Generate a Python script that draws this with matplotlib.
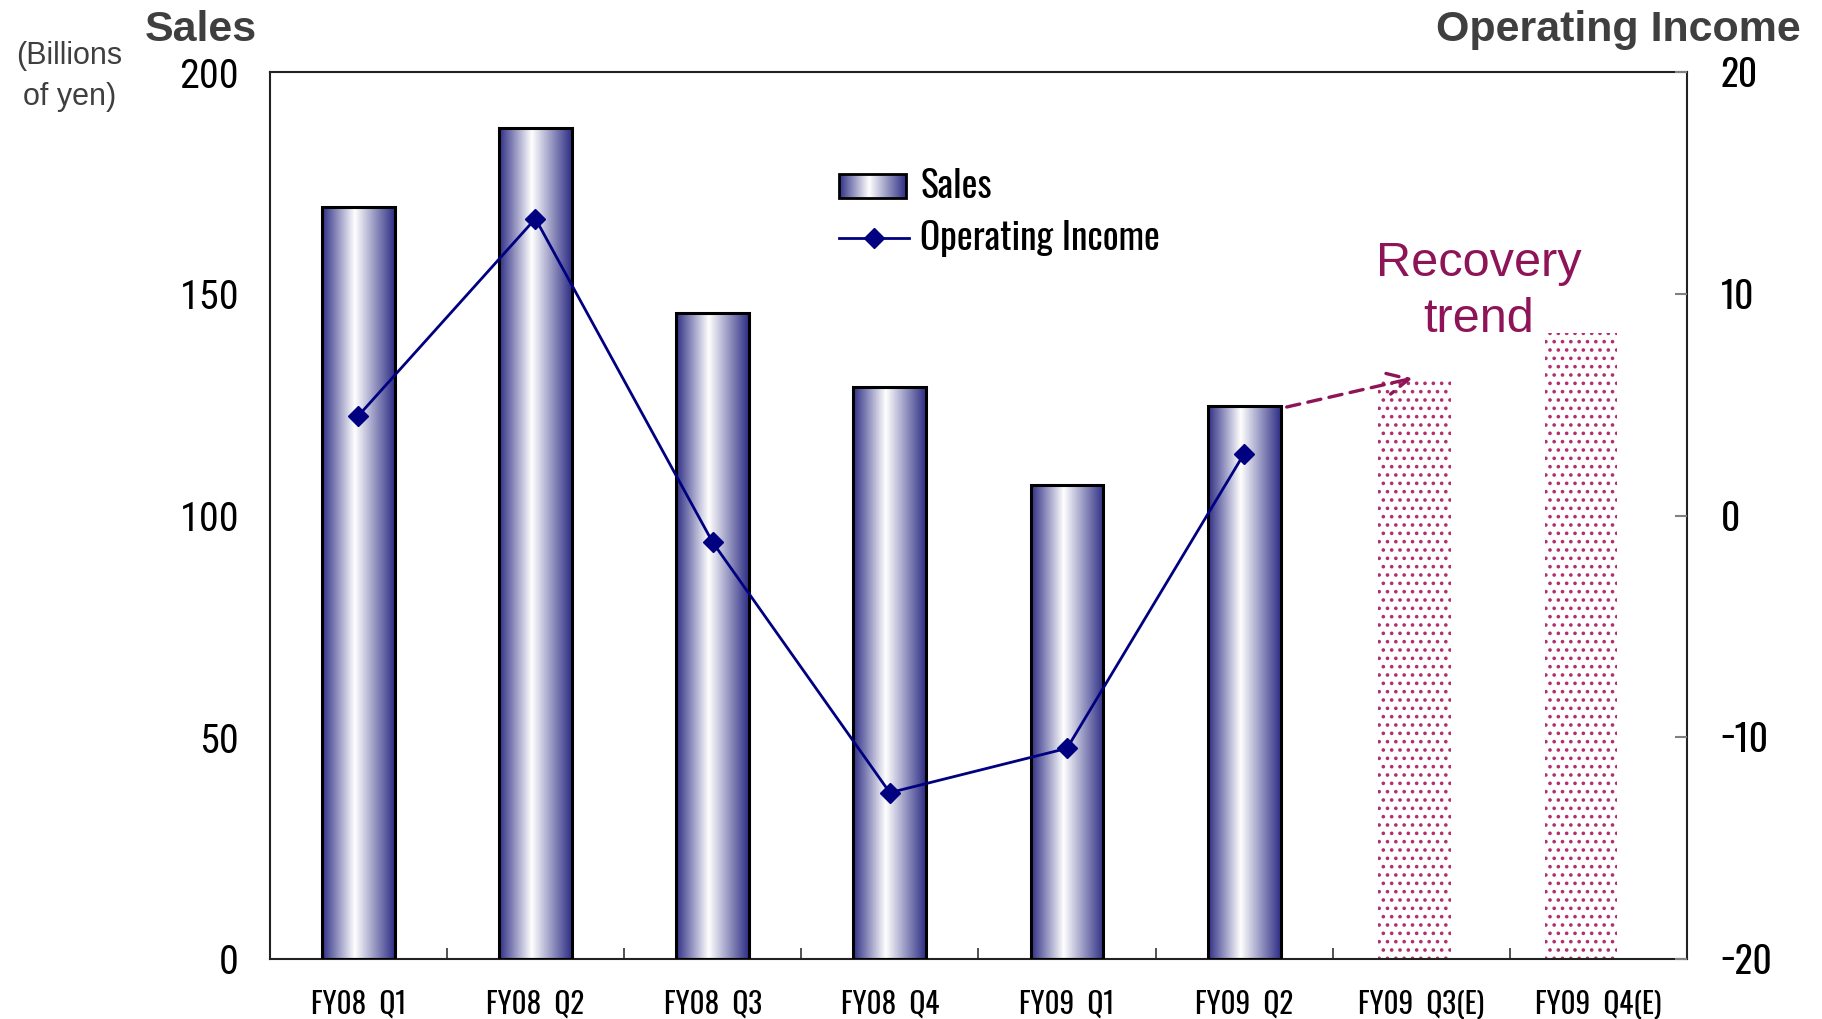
"""Quarterly sales (bars) and operating income (line), FY08 Q1 - FY09 Q4 forecast."""

import matplotlib

matplotlib.use("Agg")
import matplotlib.pyplot as plt
import numpy as np
from matplotlib.colors import LinearSegmentedColormap
from matplotlib.lines import Line2D

quarters = ["FY08  Q1", "FY08  Q2", "FY08  Q3", "FY08  Q4",
            "FY09  Q1", "FY09  Q2", "FY09  Q3(E)", "FY09  Q4(E)"]
sales_actual = [169.6, 187.4, 145.7, 129.0, 106.9, 124.8]      # billions of yen
sales_forecast = [130.8, 141.3]
op_income = [4.5, 13.4, -1.2, -12.5, -10.5, 2.8]

NAVY = "#000080"
BERRY = "#8E1458"
DOTS = "#B0306F"
TITLE_GRAY = "#3F3F3F"
NARROW = ["Oswald", "DejaVu Sans"]
COND = ["Roboto Condensed", "IBM Plex Sans Condensed", "Liberation Sans"]
SANS = ["Liberation Sans", "DejaVu Sans"]

plt.rcParams["hatch.linewidth"] = 1.4

bar_cmap = LinearSegmentedColormap.from_list(
    "tube", [(0.0, "#2E2E85"), (0.45, "#FFFFFF"), (1.0, "#2E2E85")])
grad = np.linspace(0, 1, 256).reshape(1, -1)

fig = plt.figure(figsize=(18.22, 10.19), dpi=100)
ax = fig.add_axes([0.148, 0.059, 0.778, 0.870])
ax2 = ax.twinx()

width = 0.41
x_act = np.arange(len(sales_actual))
# forecast bars sit a little left of their category centres
x_est = np.arange(len(sales_actual), len(quarters)) - np.array([0.04, 0.10])

# shaded "tube" bars: gradient image filling each bar's box
for xi, v in zip(x_act, sales_actual):
    ax.imshow(grad, extent=(xi - width / 2, xi + width / 2, 0, v),
              aspect="auto", cmap=bar_cmap, zorder=2, interpolation="bilinear")
ax.bar(x_act, sales_actual, width, facecolor="none", edgecolor="black",
       linewidth=2.2, zorder=3)

# forecast quarters as dotted bars
ax.bar(x_est, sales_forecast, width, facecolor="white", edgecolor=DOTS,
       hatch="..", linewidth=0, zorder=2)

ax.set_xlim(-0.5, len(quarters) - 0.5)
ax.set_ylim(0, 200)
ax.set_yticks([0, 50, 100, 150, 200])
ax.set_xticks(np.arange(len(quarters)))
ax.set_xticklabels(quarters, family=NARROW, fontsize=21)
ax.set_xticks(np.arange(len(quarters) - 1) + 0.5, minor=True)
ax.tick_params(axis="x", which="major", length=0, pad=22)
ax.tick_params(axis="x", which="minor", direction="in", length=8, width=1.2, color="#333333")
ax.tick_params(axis="y", length=0, pad=22)
for lab in ax.get_yticklabels():
    lab.set_family(COND)
    lab.set_fontsize(29)

for sp in ax.spines.values():
    sp.set_linewidth(1.5)
    sp.set_color("#222222")

# operating income on the right axis
ax2.plot(x_act, op_income, color=NAVY, lw=2, marker="D", markersize=10, zorder=5)
ax2.set_ylim(-20, 20)
ax2.set_yticks([-20, -10, 0, 10, 20])
ax2.tick_params(axis="y", direction="in", length=9, width=1.5, color="#808080", pad=24)
for lab in ax2.get_yticklabels():
    lab.set_family(NARROW)
    lab.set_fontsize(27)
for sp in ax2.spines.values():
    sp.set_visible(False)

# hand-placed legend
ax.imshow(grad, extent=(0.402, 0.449, 0.858, 0.885), transform=ax.transAxes,
          aspect="auto", cmap=bar_cmap, zorder=6, interpolation="bilinear")
ax.add_patch(plt.Rectangle((0.402, 0.858), 0.047, 0.027, transform=ax.transAxes,
                           facecolor="none", edgecolor="black", lw=2, zorder=7))
ax.text(0.459, 0.871, "Sales", transform=ax.transAxes, va="center", ha="left",
        family=NARROW, fontsize=27)
ax.add_line(Line2D([0.402, 0.451], [0.813, 0.813], transform=ax.transAxes,
                   color=NAVY, lw=2, zorder=7))
ax.add_line(Line2D([0.426], [0.813], transform=ax.transAxes, color=NAVY,
                   marker="D", markersize=10, zorder=7))
ax.text(0.459, 0.813, "Operating Income", transform=ax.transAxes, va="center",
        ha="left", family=NARROW, fontsize=27)

# forecast annotation
ax.text(0.853, 0.753, "Recovery\ntrend", transform=ax.transAxes, ha="center",
        va="center", color=BERRY, family=SANS, fontsize=35, linespacing=1.3)
ax.annotate("", xy=(5.95, 131), xytext=(5.24, 124.5),
            arrowprops=dict(arrowstyle="->", color=BERRY, lw=2.4, ls=(0, (4, 2.5)),
                            mutation_scale=38, shrinkA=0, shrinkB=0), zorder=8)

fig.text(0.110, 0.9705, "Sales", ha="center", va="center", fontsize=31,
         fontweight="bold", family=SANS, color=TITLE_GRAY)
fig.text(0.9885, 0.9705, "Operating Income", ha="right", va="center", fontsize=31,
         fontweight="bold", family=SANS, color=TITLE_GRAY)
fig.text(0.038, 0.925, "(Billions\nof yen)", ha="center", va="center", fontsize=22,
         family=SANS, color=TITLE_GRAY, linespacing=1.45)

fig.savefig("out.png", dpi=100)
